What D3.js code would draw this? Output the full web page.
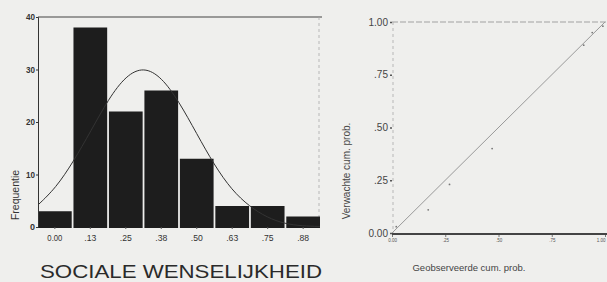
<!DOCTYPE html>
<html><head><meta charset="utf-8">
<script src="https://cdn.jsdelivr.net/npm/d3@7"></script>
<style>
html,body{margin:0;padding:0;background:#efefed;}
svg{display:block;}
text{font-family:"Liberation Sans",Arial,sans-serif;}
</style></head>
<body><svg id="c" width="607" height="282"></svg>
<script>
// ---- Histogram data ----
const binLabels = ["0.00", ".13", ".25", ".38", ".50", ".63", ".75", ".88"];
const binCounts = [3, 38, 22, 26, 13, 4, 4, 2];
const freqTicks = [0, 10, 20, 30, 40];
// normal curve (bin-value, frequency)
const curveX = [-0.0625, 0, 0.0625, 0.125, 0.1875, 0.25, 0.3125, 0.375, 0.4375, 0.5, 0.5625, 0.625, 0.6875, 0.75, 0.8125, 0.875, 0.9375];
const curveY = [4.2, 7.4, 12.4, 18.3, 24.4, 28.9, 30.5, 28.6, 23.9, 17.8, 11.8, 7.0, 3.9, 1.8, 0.6, 0.2, 0.1];
// ---- P-P plot data ----
const ppObserved = [0.02, 0.17, 0.27, 0.47, 0.90, 0.94, 0.99];
const ppExpected = [0.03, 0.11, 0.23, 0.40, 0.89, 0.95, 0.98];
const ppTicks = [0, 0.25, 0.5, 0.75, 1];
const ppTickLabels = ["0.00", ".25", ".50", ".75", "1.00"];

const svg = d3.select("#c");
svg.append("rect").attr("width",607).attr("height",282).attr("fill","#efefed");

// ================= Histogram =================
const L = {x0:38, x1:320, y0:227, y1:17};
const xb = d3.scaleBand().domain(binLabels).range([L.x0, L.x1]).paddingInner(0.05).paddingOuter(0.0);
const yh = d3.scaleLinear().domain([0,40]).range([L.y0, L.y1]);
const xv = d3.scaleLinear().domain([-0.0625, 0.9375]).range([L.x0, L.x1]);

const gL = svg.append("g");
// frame: top and right
gL.append("line").attr("x1",L.x0).attr("x2",L.x1+2).attr("y1",L.y1).attr("y2",L.y1)
  .attr("stroke","#444").attr("stroke-width",1.2);
gL.append("line").attr("x1",L.x1-1).attr("x2",L.x1-1).attr("y1",L.y1).attr("y2",L.y0)
  .attr("stroke","#aaa").attr("stroke-width",0.8).attr("stroke-dasharray","3,3");

// bars
gL.selectAll("rect.bar").data(binCounts).join("rect").attr("class","bar")
  .attr("x",(d,i)=>xb(binLabels[i])).attr("width",xb.bandwidth())
  .attr("y",d=>yh(d)).attr("height",d=>yh(0)-yh(d)+1)
  .attr("fill","#1d1d1d");

// normal curve
const cpts = curveX.map((v,i)=>[xv(v), yh(curveY[i])]);
gL.append("path").attr("d", d3.line().curve(d3.curveBasis)(cpts))
  .attr("fill","none").attr("stroke","#333").attr("stroke-width",1);

// y axis
const ax = d3.axisLeft(yh).tickValues(freqTicks).tickSize(2).tickPadding(1).tickFormat(d3.format("d"));
const gy = gL.append("g").attr("transform",`translate(${L.x0},0)`).call(ax);
gy.select(".domain").attr("stroke","#333").attr("stroke-width",1);
gy.selectAll(".tick line").attr("stroke","#333");
gy.selectAll("text").style("font-size","9px").style("font-weight","bold").attr("fill","#333")
  .attr("textLength",d=>d===0?null:9).attr("lengthAdjust","spacingAndGlyphs");

// x axis labels
const gx = gL.append("g").attr("transform",`translate(0,${L.y0})`)
  .call(d3.axisBottom(xb).tickSize(2).tickPadding(6));
gx.select(".domain").remove();
gx.selectAll(".tick line").attr("stroke","#555");
gx.selectAll("text").style("font-size","8.5px").attr("fill","#333")
  .attr("textLength",d=>d.length>3?15:12).attr("lengthAdjust","spacingAndGlyphs");

gL.append("text").attr("transform","translate(19,195) rotate(-90)").attr("text-anchor","middle")
  .style("font-size","10.5px").attr("fill","#333").text("Frequentie");

gL.append("text").attr("x",40).attr("y",278).attr("textLength",282).attr("lengthAdjust","spacingAndGlyphs")
  .style("font-size","19px").attr("fill","#2a2a2a").text("SOCIALE WENSELIJKHEID");

// ================= P-P plot =================
const R = {x0:392, x1:605, y0:233, y1:22};
const px = d3.scaleLinear().domain([0,1]).range([R.x0, R.x1]);
const py = d3.scaleLinear().domain([0,1]).range([R.y0, R.y1]);
const gR = svg.append("g");

gR.append("line").attr("x1",px(0)).attr("x2",607).attr("y1",py(1)).attr("y2",py(1))
  .attr("stroke","#999").attr("stroke-width",0.9).attr("stroke-dasharray","6,2");
gR.append("line").attr("x1",px(0)+1).attr("x2",px(0)+1).attr("y1",py(1)).attr("y2",py(0))
  .attr("stroke","#aaa").attr("stroke-width",0.8).attr("stroke-dasharray","3,3");

// diagonal
gR.append("line").attr("x1",px(0)).attr("y1",py(0)).attr("x2",px(1)).attr("y2",py(1))
  .attr("stroke","#999").attr("stroke-width",1);
// points
gR.selectAll("circle").data(ppObserved).join("circle")
  .attr("cx",(d)=>px(d)).attr("cy",(d,i)=>py(ppExpected[i])).attr("r",0.9).attr("fill","#777");

// y axis
const ayR = d3.axisLeft(py).tickValues(ppTicks).tickSize(2).tickPadding(2).tickFormat((d,i)=>ppTickLabels[i]);
const gyR = gR.append("g").attr("transform",`translate(${R.x0},0)`).call(ayR);
gyR.select(".domain").remove();
gyR.selectAll(".tick line").attr("stroke","#555").attr("stroke-width",1.5);
gyR.selectAll("text").style("font-size","10px").attr("fill","#444");

// x axis (thick)
gR.append("line").attr("x1",px(0)).attr("x2",607).attr("y1",py(0)+1).attr("y2",py(0)+1)
  .attr("stroke","#444").attr("stroke-width",2);
const axR = d3.axisBottom(px).tickValues(ppTicks).tickSize(2).tickPadding(2).tickFormat((d,i)=>ppTickLabels[i]);
const gxR = gR.append("g").attr("transform",`translate(0,${py(0)+2})`).call(axR);
gxR.select(".domain").remove();
gxR.selectAll(".tick line").attr("stroke","#777");
gxR.selectAll("text").style("font-size","4.5px").attr("fill","#555")
  .attr("text-anchor",d=>d===1?"end":"middle");

gR.append("text").attr("transform","translate(350,171) rotate(-90)").attr("text-anchor","middle")
  .style("font-size","10px").attr("fill","#444").text("Verwachte cum. prob.");
gR.append("text").attr("x",469).attr("y",271).attr("text-anchor","middle")
  .style("font-size","9.5px").attr("fill","#444").text("Geobserveerde cum. prob.");
</script></body></html>
